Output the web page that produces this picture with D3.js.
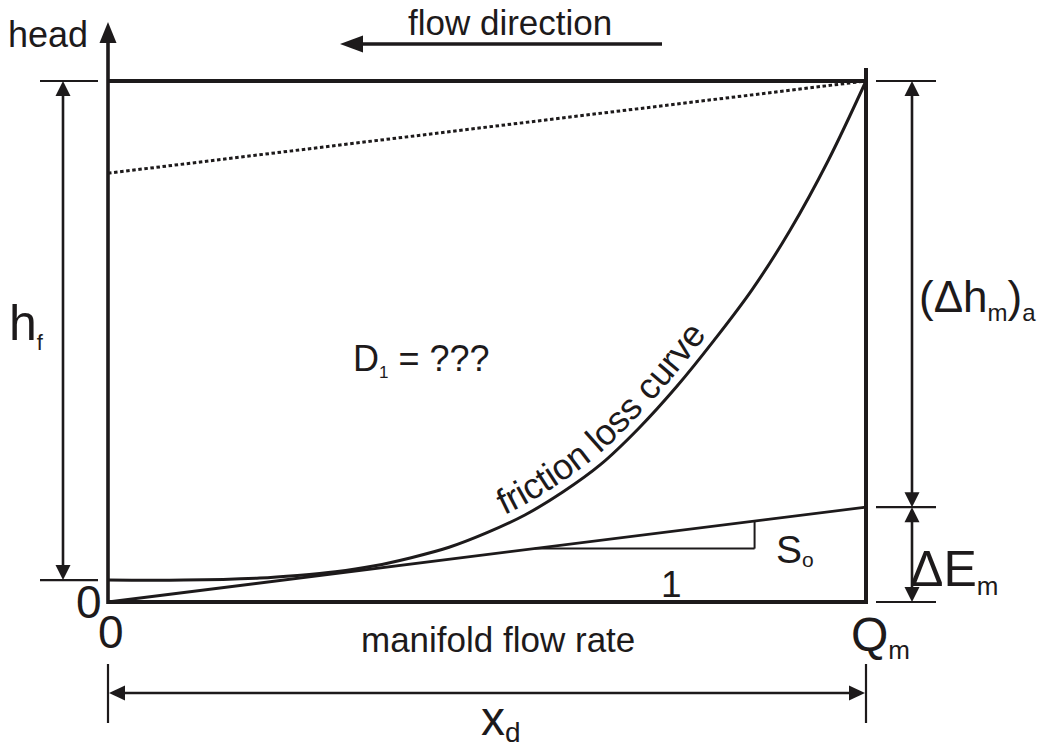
<!DOCTYPE html>
<html>
<head>
<meta charset="utf-8">
<script src="https://cdn.jsdelivr.net/npm/d3@7"></script>
<style>
  body { margin: 0; background: #fff; }
  svg text { font-family: "Liberation Sans", Arial, sans-serif; fill: #1d1a1b; }
</style>
</head>
<body>
<svg id="chart" width="1042" height="747"></svg>
<script>
// values (flow fraction 0..1, head fraction 0..1)
var flowRate     = [0, 0.10, 0.20, 0.25, 0.30, 0.35, 0.40, 0.45, 0.50, 0.55, 0.60, 0.65, 0.70, 0.75, 0.80, 0.85, 0.90, 0.95, 1];
var frictionHead = [0.042, 0.042, 0.046, 0.051, 0.058, 0.069, 0.085, 0.105, 0.133, 0.167, 0.211, 0.264, 0.333, 0.413, 0.503, 0.600, 0.714, 0.847, 1];
var energyLine   = [[0, 0], [1, 0.182]];        // straight line, slope S_o
var dottedLine   = [[0, 0.823], [1, 1]];
var hfBottom     = 0.042;                       // head at zero flow
var slopeRun     = [0.563, 0.853];              // base of the little slope triangle

var ink = '#1d1a1b';
var svg = d3.select('#chart');

var x = d3.scaleLinear().domain([0, 1]).range([108, 866]);
var y = d3.scaleLinear().domain([0, 1]).range([602, 81]);

function line(x1, y1, x2, y2, w){
    return svg.append('line')
              .attr('x1', x1).attr('y1', y1)
              .attr('x2', x2).attr('y2', y2)
              .attr('stroke', ink)
              .attr('stroke-width', w);
}

// filled arrowhead with tip at (tx, ty), pointing in direction angle (deg)
function arrowHead(tx, ty, angle, len, wid){
    var a = angle * Math.PI / 180;
    var bx = tx - len * Math.cos(a), by = ty - len * Math.sin(a);
    var px = -Math.sin(a) * wid / 2, py = Math.cos(a) * wid / 2;
    svg.append('path')
       .attr('d', 'M' + tx + ',' + ty + 'L' + (bx + px) + ',' + (by + py) + 'L' + (bx - px) + ',' + (by - py) + 'Z')
       .attr('fill', ink);
}

// vertical dimension with arrows at both ends
function vDim(xp, ya, yb){
    line(xp, ya + 10, xp, yb - 10, 2.6);
    arrowHead(xp, ya, -90, 15, 15);
    arrowHead(xp, yb, 90, 15, 15);
}

// frame
line(x(0), y(0) + 2, x(0), 40, 3.6);
arrowHead(x(0), 22, -90, 21, 17);
line(x(0), y(0), x(1) + 2, y(0), 4);
line(x(0), y(1), x(1), y(1), 4);
line(x(1), 68, x(1), y(0) + 2, 4);

var xy = d3.line().x(function(d){return x(d[0]);}).y(function(d){return y(d[1]);});

// dotted line
svg.append('path')
   .attr('d', xy(dottedLine))
   .attr('stroke', ink)
   .attr('stroke-width', 3)
   .attr('stroke-dasharray', '3.5,2.6')
   .attr('fill', 'none');

// energy line
svg.append('path')
   .attr('d', xy(energyLine))
   .attr('stroke', ink)
   .attr('stroke-width', 2.8)
   .attr('fill', 'none');

// friction loss curve
var curvePts = flowRate.map(function(d, i){return [d, frictionHead[i]];});
var curve = svg.append('path')
   .attr('id', 'fcurve')
   .attr('d', xy.curve(d3.curveCatmullRom)(curvePts))
   .attr('stroke', ink)
   .attr('stroke-width', 3)
   .attr('fill', 'none');

// slope triangle
var slope = energyLine[1][1] - energyLine[0][1];
line(x(slopeRun[0]), y(slope * slopeRun[0]), x(slopeRun[1]), y(slope * slopeRun[0]), 2);
line(x(slopeRun[1]), y(slope * slopeRun[0]), x(slopeRun[1]), y(slope * slopeRun[1]), 2);

// h_f dimension
line(40, y(1), 98, y(1), 2.2);
line(40, y(hfBottom), 98, y(hfBottom), 2.2);
vDim(63, y(1), y(hfBottom));

// right dimensions
line(876, y(1), 936, y(1), 2.2);
line(876, y(energyLine[1][1]), 936, y(energyLine[1][1]), 2.2);
line(876, y(0), 936, y(0), 2.2);
vDim(912, y(1), y(energyLine[1][1]));
vDim(912, y(energyLine[1][1]), y(0));

// x_d dimension
line(x(0), 664, x(0), 723, 2.2);
line(x(1), 664, x(1), 723, 2.2);
line(x(0) + 14, 693, x(1) - 14, 693, 2.6);
arrowHead(x(0) + 1, 693, 180, 16, 15);
arrowHead(x(1) - 1, 693, 0, 16, 15);

// flow direction arrow
line(362, 44, 662, 44, 3.4);
arrowHead(340, 44, 180, 23, 17);

// labels
function label(xp, yp, size, parts){
    var t = svg.append('text').attr('x', xp).attr('y', yp).style('font-size', size + 'px');
    parts.forEach(function(p){
        var s = t.append('tspan').text(p[0]);
        if (p[1]) s.style('font-size', p[1] + 'px');
        if (p[2]) s.attr('dy', p[2]);
    });
    return t;
}

label(8, 47, 36, [['head']]);
label(408, 35, 35, [['flow direction']]);
label(353, 371, 36, [['D'], ['1', 17, 7], [' = ???', 36, -7]]);
label(9, 340, 50, [['h'], ['f', 22, 10]]);
label(919, 312, 44, [['(\u0394h'], ['m', 24, 9], [')', 44, -9], ['a', 24, 9]]);
label(910, 586, 50, [['\u0394E'], ['m', 26, 9]]);
label(776, 563, 39, [['S'], ['o', 21, 4]]);
label(661, 597, 37, [['1']]);
label(76, 618, 46, [['0']]);
label(98, 648, 46, [['0']]);
label(851, 651, 48, [['Q'], ['m', 26, 8]]);
label(361, 652, 35, [['manifold flow rate']]);
label(481, 735, 48, [['x'], ['d', 28, 7]]);

// label along the curve
var node = curve.node(), total = node.getTotalLength(), start = 0;
for (var l = 0; l < total; l += 1){
    if (node.getPointAtLength(l).x >= 508) { start = l; break; }
}
svg.append('text')
   .style('font-size', '36px')
   .attr('dy', -9)
   .append('textPath')
   .attr('href', '#fcurve')
   .attr('startOffset', start)
   .text('friction loss curve');
</script>
</body>
</html>
